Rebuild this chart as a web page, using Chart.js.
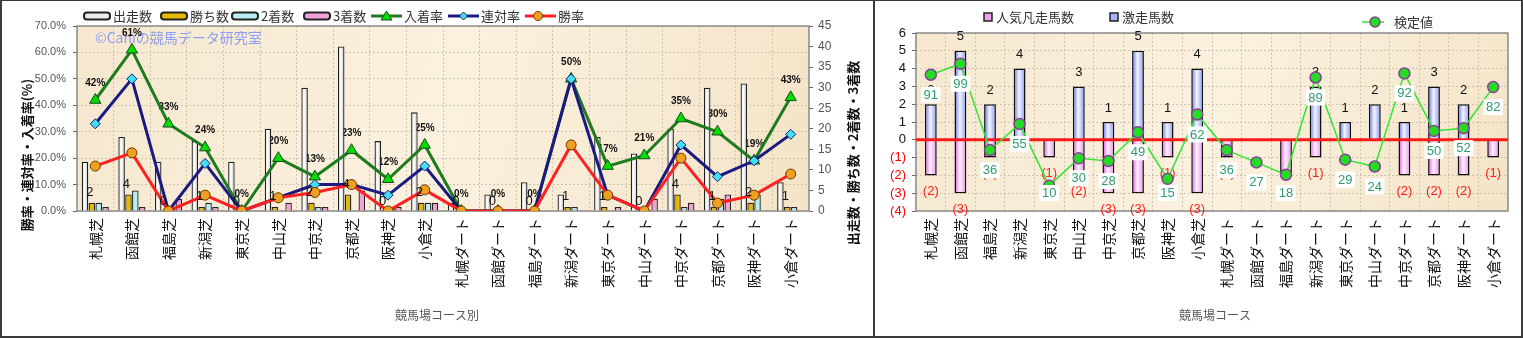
<!DOCTYPE html>
<html lang="ja">
<head>
<meta charset="utf-8">
<title>競馬場コース別</title>
<script src="https://cdn.jsdelivr.net/npm/chart.js@4.4.1/dist/chart.umd.min.js"></script>
<style>
  body { margin:0; background:#fff; }
  #waku { position:relative; width:1523px; height:338px; overflow:hidden; font-family:"Noto Sans CJK JP", sans-serif; }
  #waku .hen { position:absolute; background:#3a3a3a; }
  canvas { position:absolute; top:0; }
  .lg { position:absolute; font-size:13px; color:#333; white-space:nowrap; display:flex; align-items:center; height:16px; line-height:16px; }
  .lg svg { margin-right:2px; }
</style>
</head>
<body>
<div id="waku">
  <canvas id="hidari" width="872" height="338" style="left:0"></canvas>
  <canvas id="migi" width="646" height="338" style="left:876px"></canvas>
  <div class="hen" style="left:0;top:0;width:1523px;height:1px"></div>
  <div class="hen" style="left:0;top:336px;width:1523px;height:2px"></div>
  <div class="hen" style="left:0;top:0;width:2px;height:338px"></div>
  <div class="hen" style="left:1521px;top:0;width:2px;height:338px"></div>
  <div class="hen" style="left:873px;top:0;width:2px;height:338px"></div>
</div>
<script>
// ---- データ ----
const basho = ['札幌芝','函館芝','福島芝','新潟芝','東京芝','中山芝','中京芝','京都芝','阪神芝','小倉芝',
               '札幌ダート','函館ダート','福島ダート','新潟ダート','東京ダート','中山ダート','中京ダート','京都ダート','阪神ダート','小倉ダート'];

// 左: 競馬場コース別 成績
const shussou  = [12,18,12,17,12,20,30,40,17,24, 2, 4, 7, 4,18,14,20,30,31, 7];
const kachi    = [ 2, 4, 0, 1, 0, 1, 2, 4, 0, 2, 0, 0, 0, 1, 1, 0, 4, 1, 2, 1];
const nichaku  = [ 2, 5, 0, 2, 0, 0, 1, 0, 1, 2, 0, 0, 0, 1, 0, 0, 1, 3, 4, 1];
const sanchaku = [ 1, 1, 3, 1, 0, 2, 1, 5, 1, 2, 0, 0, 0, 0, 1, 3, 2, 4, 0, 0];
const nyuchakuRitsu = [42,61,33,24, 0,20,13,23,12,25, 0, 0, 0,50,17,21,35,30,19,43];
const rentaiRitsu   = [33,50, 0,18, 0, 5,10,10, 6,17, 0, 0, 0,50, 6, 0,25,13,19,29];
const shoRitsu      = [17,22, 0, 6, 0, 5, 7,10, 0, 8, 0, 0, 0,25, 6, 0,20, 3, 6,14];

// 右: 激走 / 凡走 / 検定値
const gekisou   = [ 2, 5, 2, 4, 0, 3, 1, 5, 1, 4, 0, 0, 0, 3, 1, 2, 1, 3, 2, 0];
const bonsou    = [-2,-3,-1, 0,-1,-2,-3,-3,-1,-3,-1, 0,-2,-1, 0, 0,-2,-2,-2,-1];
const kenteichi = [91,99,36,55,10,30,28,49,15,62,36,27,18,89,29,24,92,50,52,82];

const sukashi = '©Caniの競馬データ研究室';
const hidariTitleY  = '勝率・連対率・入着率(%)';
const hidariTitleY2 = '出走数・勝ち数・2着数・3着数';
const hidariTitleX  = '競馬場コース別';
const migiTitleX    = '競馬場コース';

Chart.defaults.font.family = '"Liberation Sans", "Noto Sans CJK JP", sans-serif';
Chart.defaults.animation = false;

// ---- 凡例 (HTML) ----
const waku = document.getElementById('waku');
function lgItem(x, y, svg, text) {
  const d = document.createElement('div');
  d.className = 'lg';
  d.style.left = x + 'px';
  d.style.top = (y - 8) + 'px';
  d.innerHTML = svg + '<span>' + text + '</span>';
  waku.appendChild(d);
}
function barIcon(fill) {
  return '<svg width="28" height="10"><rect x="1" y="1.5" width="26" height="7" rx="3" fill="' + fill + '" stroke="#222" stroke-width="2"/></svg>';
}
function lineIcon(col, marker) {
  return '<svg width="31" height="12"><line x1="0" y1="6" x2="31" y2="6" stroke="' + col + '" stroke-width="3"/>' + marker + '</svg>';
}
lgItem(83, 16, barIcon('#eaeaea'), '出走数');
lgItem(160, 16, barIcon('#e6b800'), '勝ち数');
lgItem(231, 16, barIcon('#b6eef2'), '2着数');
lgItem(303, 16, barIcon('#f0a2d4'), '3着数');
lgItem(371, 16, lineIcon('#1e7b1e', '<polygon points="15.5,1 21,10 10,10" fill="#00dd00" stroke="#1a4a1a"/>'), '入着率');
lgItem(448, 16, lineIcon('#1a1a80', '<polygon points="15.5,2 19.5,6 15.5,10 11.5,6" fill="#40e0f0" stroke="#1a1a80"/>'), '連対率');
lgItem(525, 16, lineIcon('#ff2020', '<circle cx="13" cy="6" r="4.5" fill="#f0a020" stroke="#6a3a00"/>'), '勝率');

function sqIcon(fill) {
  return '<svg width="11" height="10"><rect x="1" y="1" width="8" height="8" fill="' + fill + '" stroke="#222" stroke-width="1.5"/></svg>';
}
lgItem(983, 17, sqIcon('#f0a0f0'), '人気凡走馬数');
lgItem(1109, 17, sqIcon('#a8b4f8'), '激走馬数');
lgItem(1362, 22, '<svg width="30" height="12"><line x1="0" y1="6" x2="22" y2="6" stroke="#33e633" stroke-width="1.5"/><circle cx="13" cy="6" r="5" fill="#22dd22" stroke="#8a3c9a" stroke-width="1.5"/></svg>', '検定値');

// ---- 共通 ----
function haikei(chart) {
  const {ctx, chartArea: a} = chart;
  const g = ctx.createLinearGradient(a.left, a.top, a.right, a.bottom);
  g.addColorStop(0, '#f6e8cf');
  g.addColorStop(0.5, '#fbf1df');
  g.addColorStop(1, '#f4e4c8');
  ctx.save();
  ctx.fillStyle = g;
  ctx.fillRect(a.left, a.top, a.width, a.height);
  ctx.restore();
}
function wakusen(chart) {
  const {ctx, chartArea: a} = chart;
  ctx.save();
  ctx.strokeStyle = '#8c8c8c';
  ctx.lineWidth = 1.5;
  ctx.strokeRect(a.left, a.top, a.width, a.height);
  ctx.restore();
}
function grad(c, stops, fallback) {
  const el = c.element;
  if (!el || !isFinite(el.x) || !el.width) return fallback;
  const g = c.chart.ctx.createLinearGradient(el.x - el.width / 2, 0, el.x + el.width / 2, 0);
  stops.forEach(s => g.addColorStop(s[0], s[1]));
  return g;
}
const xTicks = {
  autoSkip: false, minRotation: 90, maxRotation: 90, padding: 7,
  color: '#111', font: { size: 14, family: '"Noto Sans CJK JP", sans-serif' }
};
const gridIro = '#cfc4b0';

// ---- 左グラフ ----
const hidariKazari = {
  id: 'hidariKazari',
  beforeDraw: haikei,
  beforeDatasetsDraw(chart) {
    const {ctx, chartArea: a} = chart;
    wakusen(chart);
    ctx.save();
    ctx.font = '14px "Noto Sans CJK JP", sans-serif';
    ctx.fillStyle = '#8d9ef2';
    ctx.textBaseline = 'middle';
    ctx.fillText(sukashi, a.left + 18, a.top + 12);
    ctx.font = 'bold 10px "Liberation Sans", sans-serif';
    ctx.fillStyle = '#111';
    ctx.textAlign = 'center';
    chart.getDatasetMeta(4).data.forEach((p, i) => {
      ctx.fillText(nyuchakuRitsu[i] + '%', p.x, p.y - 17);
    });
    ctx.restore();
  },
  afterDatasetsDraw(chart) {
    const {ctx} = chart;
    ctx.save();
    ctx.font = '13px "Liberation Sans", sans-serif';
    ctx.fillStyle = '#111';
    ctx.textAlign = 'center';
    ctx.textBaseline = 'middle';
    chart.getDatasetMeta(1).data.forEach((b, i) => {
      ctx.fillText(String(kachi[i]), b.x - 2, b.y - 10);
    });
    ctx.restore();
  },
  afterDraw(chart) {
    const {ctx} = chart;
    ctx.save();
    ctx.fillStyle = '#111';
    ctx.textAlign = 'center';
    ctx.textBaseline = 'middle';
    ctx.font = 'bold 13px "Noto Sans CJK JP", sans-serif';
    ctx.translate(27, 155);
    ctx.rotate(-Math.PI / 2);
    ctx.fillText(hidariTitleY, 0, 0);
    ctx.restore();
    ctx.save();
    ctx.fillStyle = '#111';
    ctx.textAlign = 'center';
    ctx.textBaseline = 'middle';
    ctx.font = 'bold 13px "Noto Sans CJK JP", sans-serif';
    ctx.translate(853, 153);
    ctx.rotate(-Math.PI / 2);
    ctx.fillText(hidariTitleY2, 0, 0);
    ctx.restore();
    ctx.save();
    ctx.fillStyle = '#555';
    ctx.textAlign = 'center';
    ctx.textBaseline = 'middle';
    ctx.font = '12px "Noto Sans CJK JP", sans-serif';
    ctx.fillText(hidariTitleX, 437, 315);
    ctx.restore();
  }
};

const barKihon = { yAxisID: 'y2', borderColor: '#222', borderWidth: 1.3, order: 10,
                   categoryPercentage: 0.75, barPercentage: 0.95 };

const hidari = new Chart(document.getElementById('hidari'), {
  type: 'bar',
  data: {
    labels: basho,
    datasets: [
      Object.assign({ label: '出走数', data: shussou,
        backgroundColor: c => grad(c, [[0, '#d4d4d4'], [0.45, '#ffffff'], [1, '#bdbdbd']], '#ececec') }, barKihon),
      Object.assign({ label: '勝ち数', data: kachi, backgroundColor: '#e6b800' }, barKihon),
      Object.assign({ label: '2着数', data: nichaku, backgroundColor: '#b6eef2' }, barKihon),
      Object.assign({ label: '3着数', data: sanchaku, backgroundColor: '#f0a2d4' }, barKihon),
      { type: 'line', label: '入着率', data: nyuchakuRitsu, yAxisID: 'y', order: 3,
        borderColor: '#1e7b1e', borderWidth: 3, pointStyle: 'triangle', pointRadius: 6.5,
        pointBackgroundColor: '#00dd00', pointBorderColor: '#1a4a1a', pointBorderWidth: 1 },
      { type: 'line', label: '連対率', data: rentaiRitsu, yAxisID: 'y', order: 2,
        borderColor: '#1a1a80', borderWidth: 3, pointStyle: 'rectRot', pointRadius: 5,
        pointBackgroundColor: '#40e0f0', pointBorderColor: '#1a1a80', pointBorderWidth: 1 },
      { type: 'line', label: '勝率', data: shoRitsu, yAxisID: 'y', order: 1,
        borderColor: '#ff2020', borderWidth: 3, pointStyle: 'circle', pointRadius: 5,
        pointBackgroundColor: '#f0a020', pointBorderColor: '#6a3a00', pointBorderWidth: 1 }
    ]
  },
  options: {
    responsive: false,
    layout: { padding: { top: 26, left: 0, right: 0, bottom: 0 } },
    plugins: { legend: { display: false }, tooltip: { enabled: false } },
    scales: {
      x: {
        offset: true,
        grid: { offset: true, color: gridIro, drawTicks: false },
        border: { display: false, dash: [2, 2] },
        ticks: xTicks,
        afterFit: s => { s.height = 127; }
      },
      y: {
        position: 'left', min: 0, max: 70,
        grid: { color: gridIro, tickColor: '#666', tickLength: 4 },
        border: { display: false, dash: [2, 2] },
        ticks: { stepSize: 10, autoSkip: false, padding: 7, color: '#555', font: { size: 11 },
                 callback: v => v.toFixed(1) + '%' },
        afterFit: s => { s.width = 77; }
      },
      y2: {
        position: 'right', min: 0, max: 45,
        grid: { drawOnChartArea: false, tickColor: '#666', tickLength: 4 },
        border: { display: false },
        ticks: { stepSize: 5, autoSkip: false, padding: 5, color: '#555', font: { size: 12 } },
        afterFit: s => { s.width = 63; }
      }
    }
  },
  plugins: [hidariKazari]
});
hidari.update();

// ---- 右グラフ ----
const migiKazari = {
  id: 'migiKazari',
  beforeDraw: haikei,
  beforeDatasetsDraw: wakusen,
  beforeDatasetDraw(chart, args) {
    if (args.index !== 2) return;
    const {ctx, chartArea: a, scales} = chart;
    const y0 = scales.y.getPixelForValue(0);
    ctx.save();
    ctx.strokeStyle = '#ff1a1a';
    ctx.lineWidth = 3;
    ctx.beginPath();
    ctx.moveTo(a.left, y0);
    ctx.lineTo(a.right, y0);
    ctx.stroke();
    ctx.font = '13px "Liberation Sans", sans-serif';
    ctx.textAlign = 'center';
    ctx.textBaseline = 'middle';
    chart.getDatasetMeta(1).data.forEach((b, i) => {
      if (gekisou[i] > 0) { ctx.fillStyle = '#111'; ctx.fillText(String(gekisou[i]), b.x, b.y - 14); }
    });
    chart.getDatasetMeta(0).data.forEach((b, i) => {
      if (bonsou[i] < 0) { ctx.fillStyle = '#ff2020'; ctx.fillText('(' + (-bonsou[i]) + ')', b.x, b.y + 16); }
    });
    ctx.restore();
  },
  afterDatasetsDraw(chart) {
    const {ctx, chartArea: a} = chart;
    ctx.save();
    ctx.font = '13px "Liberation Sans", sans-serif';
    ctx.textAlign = 'center';
    ctx.textBaseline = 'middle';
    chart.getDatasetMeta(2).data.forEach((p, i) => {
      const t = String(kenteichi[i]);
      const w = ctx.measureText(t).width + 5, h = 16;
      const cy = Math.min(p.y + 20, a.bottom - 18);
      ctx.fillStyle = '#fff';
      ctx.fillRect(p.x - w / 2, cy - h / 2, w, h);
      ctx.fillStyle = '#2f9a6e';
      ctx.fillText(t, p.x, cy + 0.5);
    });
    ctx.restore();
  },
  afterDraw(chart) {
    const {ctx} = chart;
    ctx.save();
    ctx.fillStyle = '#555';
    ctx.textAlign = 'center';
    ctx.textBaseline = 'middle';
    ctx.font = '12px "Noto Sans CJK JP", sans-serif';
    ctx.fillText(migiTitleX, 339, 315);
    ctx.restore();
  }
};

const migiBar = { borderColor: '#111', borderWidth: 1.5, order: 2,
                  categoryPercentage: 0.8, barPercentage: 0.5 };

const migi = new Chart(document.getElementById('migi'), {
  type: 'bar',
  data: {
    labels: basho,
    datasets: [
      Object.assign({ label: '人気凡走馬数', data: bonsou,
        backgroundColor: c => grad(c, [[0, '#e050e0'], [0.45, '#fff2ff'], [1, '#e590e8']], '#f0a0f0') }, migiBar),
      Object.assign({ label: '激走馬数', data: gekisou,
        backgroundColor: c => grad(c, [[0, '#5a6cf0'], [0.45, '#f4f6ff'], [1, '#8a96f4']], '#a8b4f8') }, migiBar),
      { type: 'line', label: '検定値', data: kenteichi, yAxisID: 'y2', order: 1,
        borderColor: '#33e633', borderWidth: 1.5, pointRadius: 5.5,
        pointBackgroundColor: '#22dd22', pointBorderColor: '#8a3c9a', pointBorderWidth: 1.5 }
    ]
  },
  options: {
    responsive: false,
    layout: { padding: { top: 33, left: 0, right: 14, bottom: 0 } },
    plugins: { legend: { display: false }, tooltip: { enabled: false } },
    scales: {
      x: {
        stacked: true, offset: true,
        grid: { offset: true, color: gridIro, drawTicks: false },
        border: { display: false, dash: [2, 2] },
        ticks: xTicks,
        afterFit: s => { s.height = 127; }
      },
      y: {
        stacked: true, min: -4, max: 6,
        grid: { color: gridIro, tickColor: '#666', tickLength: 4 },
        border: { display: false, dash: [2, 2] },
        ticks: { stepSize: 1, autoSkip: false, padding: 6, font: { size: 13 },
                 color: c => (c.tick && c.tick.value < 0) ? '#ff0000' : '#111',
                 callback: v => v < 0 ? '(' + (-v) + ')' : String(v) },
        afterFit: s => { s.width = 40; }
      },
      y2: { display: false, min: -8.5, max: 121.5 }
    }
  },
  plugins: [migiKazari]
});
migi.update();
</script>
</body>
</html>
